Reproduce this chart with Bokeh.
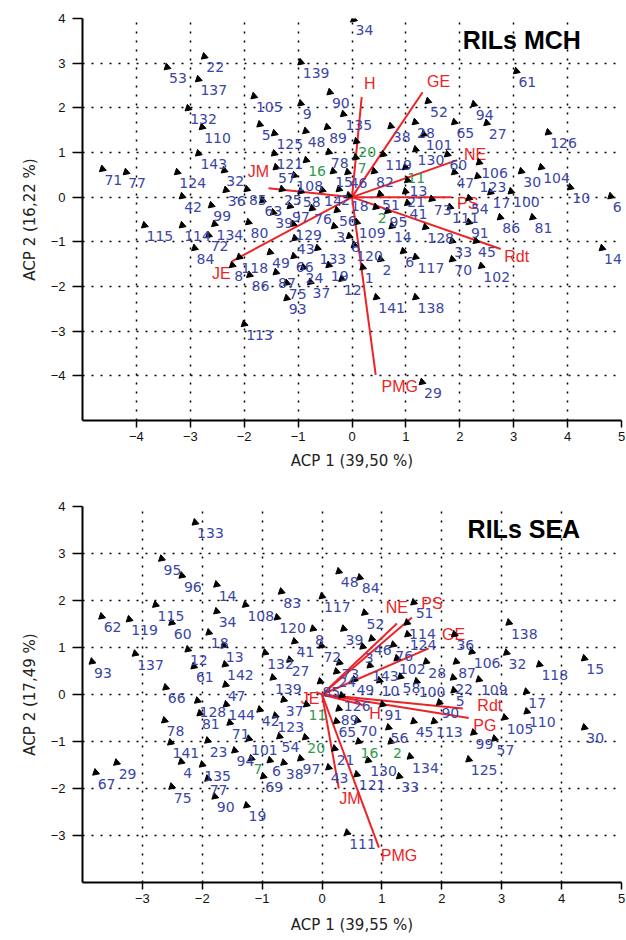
import math
from bokeh.plotting import figure
from bokeh.models import Label, FixedTicker, Range1d
from bokeh.layouts import column
from bokeh.embed import file_html
from bokeh.resources import INLINE
from bokeh.core.properties import value

# ---------------- RILs MCH ----------------
mch_ids = ["34", "22", "53", "139", "61", "137", "90", "105", "9", "52", "94", "132", "135", "65", "27", "28",
           "38", "110", "5", "125", "48", "89", "126", "101", "130", "60", "78", "119", "143", "121", "106", "30",
           "104", "71", "77", "124", "32", "57", "15", "46", "82", "47", "123", "108", "13", "10", "6", "42",
           "36", "85", "25", "58", "14", "2", "18", "51", "21", "54", "17", "100", "73", "99", "63", "97",
           "76", "56", "95", "41", "111", "86", "81", "39", "109", "14", "128", "91", "3", "134", "80", "129",
           "115", "114", "72", "43", "8", "33", "45", "120", "133", "84", "118", "49", "66", "8", "6", "117",
           "70", "14", "102", "2", "1", "19", "24", "87", "86", "75", "37", "12", "93", "141", "138", "113", "29"]
mch_x = [0.03, -2.74, -3.43, -0.95, 3.05, -2.85, -0.41, -1.82, -0.95, 1.41, 2.26, -3.04, -0.16, 1.90, 2.50, 1.17,
         0.72, -2.78, -1.71, -1.44, -0.86, -0.46, 3.64, 1.33, 1.18, 1.77, -0.43, 0.58, -2.85, -1.44, 2.36, 3.14,
         3.51, -4.63, -4.19, -3.24, -2.37, -1.41, -0.35, -0.08, 0.41, 1.90, 2.33, -1.07, 1.03, 4.05, 4.80, -3.15,
         -2.34, -1.95, -1.30, -0.95, -0.55, -0.24, -0.06, 0.52, 0.99, 2.17, 2.57, 2.95, 1.48, -2.61, -1.66, -1.15,
         -0.74, -0.28, 0.66, 1.03, 1.82, 2.75, 3.35, -1.46, 0.09, 0.74, 1.36, 2.17, -0.33, -2.55, -1.92, -1.09,
         -3.85, -3.15, -2.66, -1.06, -0.05, 1.86, 2.30, 0.04, -0.64, -2.92, -2.09, -1.52, -1.08, -2.22, 0.95, 1.18,
         1.86, 4.64, 2.40, 0.53, 0.20, -0.43, -0.90, -1.41, -1.90, -1.21, -0.77, -0.19, -1.21, 0.45, 1.18, -2.00, 1.30]
mch_y = [3.98, 3.15, 2.91, 3.02, 2.82, 2.64, 2.35, 2.26, 2.10, 2.15, 2.08, 1.99, 1.86, 1.68, 1.66, 1.68,
         1.59, 1.57, 1.63, 1.43, 1.48, 1.57, 1.45, 1.41, 1.07, 0.96, 1.01, 0.96, 0.98, 0.98, 0.78, 0.58,
         0.67, 0.63, 0.56, 0.56, 0.60, 0.67, 0.58, 0.56, 0.58, 0.56, 0.47, 0.49, 0.38, 0.22, 0.02, 0.02,
         0.16, 0.18, 0.18, 0.13, 0.16, 0.18, 0.04, 0.07, 0.13, -0.02, 0.11, 0.13, -0.04, -0.18, -0.07, -0.20,
         -0.25, -0.29, -0.31, -0.13, -0.22, -0.45, -0.45, -0.34, -0.56, -0.65, -0.67, -0.56, -0.65, -0.60, -0.56, -0.60,
         -0.63, -0.63, -0.85, -0.92, -0.87, -0.98, -0.98, -1.07, -1.14, -1.14, -1.34, -1.23, -1.32, -1.52, -1.21, -1.34,
         -1.39, -1.14, -1.54, -1.39, -1.57, -1.52, -1.57, -1.68, -1.74, -1.92, -1.90, -1.83, -2.26, -2.24, -2.24, -2.84, -4.14]
mch_green_ids = ["16", "20", "7", "11", "2"]
mch_green_x = [-0.85, 0.08, 0.07, 0.99, 0.44]
mch_green_y = [0.83, 1.25, 0.89, 0.67, -0.22]
mch_vars = ["H", "GE", "NE", "PS", "Rdt", "PMG", "JE", "JM"]
mch_vx = [0.18, 1.31, 1.95, 1.85, 2.76, 0.44, -2.22, -1.55]
mch_vy = [2.24, 2.35, 0.83, 0.00, -1.16, -3.98, -1.43, 0.20]
mch_xticks = [-4, -3, -2, -1, 0, 1, 2, 3, 4, 5]
mch_yticks = [-4, -3, -2, -1, 0, 1, 2, 3, 4]

# ---------------- RILs SEA ----------------
sea_ids = ["133", "95", "96", "14", "115", "34", "108", "83", "120", "62", "119", "60", "18", "137", "12", "13",
           "61", "142", "132", "93", "41", "27", "66", "47", "139", "48", "84", "117", "51", "52", "114", "138",
           "8", "39", "124", "36", "46", "72", "3", "76", "106", "32", "118", "15", "73", "102", "28", "87",
           "143", "24", "49", "10", "58", "100", "22", "109", "85", "5", "17", "126", "91", "90", "105", "110",
           "30", "89", "65", "70", "45", "113", "56", "99", "57", "21", "130", "134", "125", "97", "43", "121",
           "33", "111", "128", "144", "42", "123", "37", "78", "81", "71", "141", "23", "101", "54", "94", "29",
           "4", "135", "6", "38", "67", "69", "77", "75", "90", "19"]
sea_x = [-2.12, -2.68, -2.34, -1.76, -2.78, -1.76, -1.28, -0.68, -0.75, -3.68, -3.22, -2.51, -1.89, -3.12, -2.24, -1.64,
         -2.14, -1.62, -0.95, -3.84, -0.46, -0.54, -2.61, -1.61, -0.82, 0.28, 0.63, 0.00, 1.53, 0.71, 1.42, 3.12,
         -0.15, 0.36, 1.43, 2.21, 0.83, -0.01, 0.68, 1.19, 2.50, 3.08, 3.63, 4.38, 0.29, 1.25, 1.74, 2.24,
         0.80, 0.24, 0.54, 0.96, 1.31, 1.58, 2.19, 2.62, -0.03, 2.20, 3.41, 0.33, 1.01, 1.96, 3.05, 3.42,
         4.38, 0.28, 0.24, 0.59, 1.53, 1.87, 1.11, 2.53, 2.88, 0.21, 0.77, 1.47, 2.45, -0.36, 0.11, 0.58,
         1.29, 0.42, -2.08, -1.60, -1.04, -0.78, -0.64, -2.63, -2.04, -1.54, -2.53, -1.91, -1.22, -0.71, -1.46, -3.43,
         -2.35, -2.00, -0.87, -0.64, -3.78, -0.98, -1.91, -2.51, -1.79, -1.26]
sea_y = [3.66, 2.89, 2.53, 2.34, 1.91, 1.77, 1.91, 2.19, 1.64, 1.66, 1.60, 1.53, 1.32, 0.87, 0.96, 1.04,
         0.60, 0.64, 0.89, 0.70, 1.13, 0.74, 0.15, 0.21, 0.36, 2.62, 2.49, 2.09, 1.96, 1.74, 1.53, 1.53,
         1.40, 1.40, 1.28, 1.28, 1.19, 1.04, 1.02, 1.06, 0.91, 0.89, 0.64, 0.77, 0.68, 0.77, 0.70, 0.70,
         0.62, 0.49, 0.32, 0.30, 0.38, 0.28, 0.36, 0.32, 0.28, 0.09, 0.06, -0.02, -0.21, -0.17, -0.49, -0.36,
         -0.70, -0.30, -0.57, -0.55, -0.57, -0.57, -0.70, -0.81, -0.94, -1.15, -1.40, -1.32, -1.38, -1.36, -1.55, -1.70,
         -1.74, -2.94, -0.13, -0.21, -0.32, -0.45, -0.11, -0.55, -0.40, -0.60, -1.02, -0.98, -0.94, -0.89, -1.19, -1.45,
         -1.43, -1.49, -1.40, -1.45, -1.66, -1.74, -1.79, -1.96, -2.17, -2.36]
sea_green_ids = ["11", "20", "16", "2", "7"]
sea_green_x = [-0.26, -0.28, 0.61, 1.15, -1.18]
sea_green_y = [-0.21, -0.91, -1.00, -1.00, -1.36]
sea_vars = ["NE", "PS", "GE", "Rdt", "PG", "H", "JM", "PMG", "JE"]
sea_vx = [1.25, 1.50, 1.78, 2.35, 2.45, 0.70, 0.28, 0.95, -0.10]
sea_vy = [1.51, 1.64, 0.98, -0.30, -0.50, -0.23, -2.00, -3.26, 0.05]
sea_xticks = [-3, -2, -1, 0, 1, 2, 3, 4, 5]
sea_yticks = [-3, -2, -1, 0, 1, 2, 3, 4]

# ---------------- styles ----------------
BLUE = "#3a46a6"
GREEN = "#2f9a4c"
RED = "#ee2326"
mch_label_offsets = [(8, -14), (16, -11), (18, -6), (16, 6), (16, 8), (24, 12), (-11, 12), (-10, -17)]
sea_label_offsets = [(0, -16), (20, -14), (25, -14), (27, -3), (16, 7), (11, 8), (11, 10), (20, 8), (-6, 6)]


def panel(height, xr, yr, borders, xticks, yticks, ids, xs, ys, gids, gx, gy,
          vars_, vx, vy, offs, title, title_xy, xlab, ylab, xstand):
    left, right, top, bottom = borders
    p = figure(width=626, height=height, x_range=Range1d(*xr), y_range=Range1d(*yr),
               output_backend="svg", toolbar_location=None,
               min_border_left=left, min_border_right=right,
               min_border_top=top, min_border_bottom=bottom)
    p.outline_line_color = None
    p.background_fill_color = "white"
    p.border_fill_color = "white"
    for ax, ticks in ((p.xaxis[0], xticks), (p.yaxis[0], yticks)):
        ax.ticker = FixedTicker(ticks=ticks)
        ax.axis_line_width = 2
        ax.axis_line_color = "black"
        ax.major_tick_line_color = "black"
        ax.major_tick_line_width = 1.5
        ax.major_tick_in = 0
        ax.minor_tick_out = 0
        ax.minor_tick_in = 0
        ax.major_label_text_font = "Liberation Sans"
        ax.major_label_text_font_size = "13px"
        ax.major_label_text_color = "#111111"
        ax.axis_label_text_font = "DejaVu Sans"
        ax.axis_label_text_font_size = "15px"
        ax.axis_label_text_font_style = "normal"
        ax.axis_label_text_color = "#222222"
    p.xaxis.axis_label = xlab
    p.yaxis.axis_label = ylab
    p.xaxis.axis_label_standoff = xstand
    p.yaxis.axis_label_standoff = 9
    p.xaxis.major_tick_out = 7
    p.xaxis.major_label_standoff = 4
    p.yaxis.major_tick_out = 10
    p.yaxis.major_label_standoff = 7
    p.xgrid.ticker = FixedTicker(ticks=xticks)
    p.ygrid.ticker = FixedTicker(ticks=yticks)
    for g in (p.xgrid[0], p.ygrid[0]):
        g.grid_line_color = "black"
        g.grid_line_dash = "2 7"
        g.grid_line_width = 1.5

    # loading vectors
    for v, ex, ey in zip(vars_, vx, vy):
        p.line([0, ex], [0, ey], line_color=RED, line_width=2)
    p.text(x=vx, y=vy, text=vars_, x_offset=[o[0] for o in offs], y_offset=[o[1] for o in offs],
           text_font=value("Liberation Sans"), text_font_size="16px", text_color=RED,
           text_align="center", text_baseline="middle")

    # individuals
    p.scatter(xs + gx, ys + gy, marker="triangle", size=7, angle=-1.9,
              fill_color="black", line_color="black")
    p.text(x=xs, y=ys, text=ids, x_offset=2, y_offset=11,
           text_font=value("DejaVu Sans"), text_font_size="14px", text_color=BLUE,
           text_align="left", text_baseline="middle")
    p.text(x=gx, y=gy, text=gids, x_offset=2, y_offset=11,
           text_font=value("DejaVu Sans"), text_font_size="14px", text_color=GREEN,
           text_align="left", text_baseline="middle")

    p.add_layout(Label(x=title_xy[0], y=title_xy[1], text=title, text_font="Liberation Sans",
                       text_font_style="bold", text_font_size="25px", text_color="black",
                       text_align="center", text_baseline="middle"))
    return p


p1 = panel(480, (-5, 5), (-5, 4), (72, 4, 18, 60), mch_xticks, mch_yticks,
           mch_ids, mch_x, mch_y, mch_green_ids, mch_green_x, mch_green_y,
           mch_vars, mch_vx, mch_vy, mch_label_offsets,
           "RILs MCH", (3.15, 3.51), "ACP 1 (39,50 %)", "ACP 2 (16,22 %)", 8)
p2 = panel(460, (-4, 5), (-4, 4), (82, 5, 26, 58), sea_xticks, sea_yticks,
           sea_ids, sea_x, sea_y, sea_green_ids, sea_green_x, sea_green_y,
           sea_vars, sea_vx, sea_vy, sea_label_offsets,
           "RILs SEA", (3.37, 3.53), "ACP 1 (39,55 %)", "ACP 2 (17,49 %)", 10)

layout = column(p1, p2, spacing=0)
open("out.html", "w").write(file_html(layout, INLINE))
